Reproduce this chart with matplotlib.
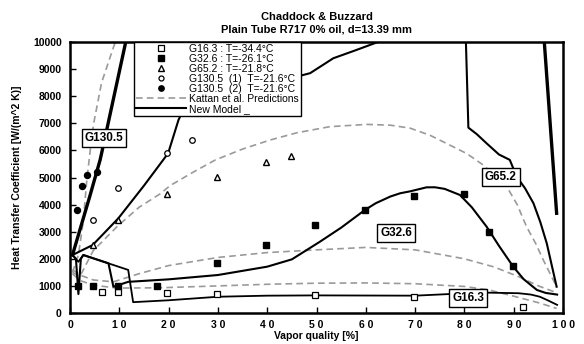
import matplotlib
matplotlib.use('Agg')
import matplotlib.pyplot as plt

plt.rcParams['font.family'] = ['Liberation Sans', 'DejaVu Sans']

# measured points, vapor quality [%] vs h [W/(m^2 K)]
x_g16 = [6.4, 9.7, 19.7, 29.8, 49.7, 69.8, 91.8]
h_g16 = [786, 764, 749, 712, 676, 590, 210]
x_g32 = [1.7, 4.7, 9.7, 17.7, 29.8, 39.8, 49.7, 59.8, 69.8, 79.9, 84.9, 89.8]
h_g32 = [996, 1007, 996, 985, 1857, 2521, 3247, 3800, 4330, 4390, 3000, 1734]
x_g65 = [4.6, 9.7, 19.7, 29.8, 39.8, 44.8]
h_g65 = [2509, 3432, 4391, 5030, 5583, 5793]
x_g130a = [4.7, 9.7, 19.7, 24.7]
h_g130a = [3432, 4600, 5893, 6384]
x_g130b = [1.4, 2.4, 3.4, 5.4]
h_g130b = [3800, 4697, 5092, 5192]

# Kattan et al. predictions
xk16 = [0.5, 2, 4.7, 9.5, 18, 30, 40, 50, 60, 70, 80, 85, 90, 95, 98.7]
hk16 = [1450, 1200, 1030, 920, 930, 1000, 1060, 1100, 1110, 1080, 980, 850, 620, 380, 170]
xk32 = [0.5, 2, 4.7, 8.8, 14, 20, 30, 40, 50, 60, 70, 80, 86, 91, 95, 98.7]
hk32 = [1600, 1400, 1220, 1150, 1450, 1750, 2050, 2230, 2330, 2420, 2330, 2000, 1700, 1340, 1000, 750]
xk65 = [0.5, 2, 4.7, 9.6, 14, 18.3, 20.3, 25, 29.5, 35, 40.6, 46, 52.7, 60.2, 65, 69, 73, 77,
        80.5, 83.5, 86, 88.6, 90.7, 92.6, 94.5, 96, 98.7]
hk65 = [1500, 1350, 2300, 3200, 3900, 4400, 4700, 5200, 5650, 6050, 6384, 6650, 6876, 6960,
        6930, 6820, 6560, 6200, 5880, 5500, 5120, 4660, 4000, 3185, 2550, 1955, 970]
xk130 = [0.5, 1.7, 2.7, 3.4, 4.1, 4.8, 6.4, 8.8, 9.6]
hk130 = [1500, 2140, 3400, 4900, 6000, 7000, 8500, 9800, 10200]

# new model
xm16 = [0.5, 1.7, 2.7, 11.8, 12.8, 20, 30, 40, 50, 70, 77, 85, 91, 93.5, 95.3, 97, 98.8]
hm16 = [2140, 1890, 2140, 1590, 400, 470, 600, 640, 650, 640, 700, 750, 730, 680, 600, 460, 300]
xm32 = [0.5, 1.2, 1.7, 2.2, 2.7, 7.8, 8.8, 11.8, 20, 30, 40, 45, 50.7, 55, 59.8, 62, 65, 67,
        69, 72.3, 74, 76, 79.1, 81.5, 84.5, 87, 89.9, 92, 94.7, 96.5, 98.8]
hm32 = [2140, 2000, 700, 2000, 2140, 1833, 970, 1150, 1242, 1402, 1710, 1980, 2632, 3150,
        3800, 4050, 4300, 4420, 4490, 4637, 4640, 4580, 4354, 3900, 3185, 2480, 1710, 1250,
        850, 740, 680]
xm65 = [0.5, 4.6, 9.8, 15, 19.9, 22, 23.5, 35, 48.7, 53.4, 58, 63.5, 66, 79, 80.3, 80.8,
        82.5, 84.5, 87, 89.2, 90.6, 92.3, 94, 95.4, 96.7, 98.7]
hm65 = [2140, 2509, 3494, 4700, 5893, 7122, 7700, 8200, 8850, 9400, 9700, 10070, 10700,
        10700, 10000, 6840, 6600, 6260, 5850, 5650, 5030, 4600, 4050, 3350, 2570, 970]
xm130 = [0.5, 4, 6.1, 7, 11.3, 12.3, 95.8, 96.2, 98.7]
hm130 = [2140, 4300, 5647, 6384, 10000, 10700, 10700, 10000, 3680]

xticks = list(range(0, 101, 10))
xticklabels = [' '.join(str(v)) for v in xticks]
yticks = list(range(0, 10001, 1000))

fig = plt.figure(figsize=(5.84, 3.44), dpi=100)
ax = fig.add_axes([0.1199, 0.0901, 0.8442, 0.7878])

grey = '#9a9a9a'
for xs, hs in [(xk16, hk16), (xk32, hk32), (xk65, hk65), (xk130, hk130)]:
    ax.plot(xs, hs, color=grey, lw=1.2, ls=(0, (4, 2.5)), zorder=2)

ax.plot(xm16, hm16, color='black', lw=1.3, zorder=3)
ax.plot(xm32, hm32, color='black', lw=1.5, zorder=3)
ax.plot(xm65, hm65, color='black', lw=1.5, zorder=3)
ax.plot(xm130, hm130, color='black', lw=2.4, zorder=3)

ax.plot(x_g16, h_g16, ls='none', marker='s', ms=4.2, mfc='white', mec='black', mew=0.9, zorder=4,
        label='G16.3 : T=-34.4°C')
ax.plot(x_g32, h_g32, ls='none', marker='s', ms=4.6, mfc='black', mec='black', zorder=4,
        label='G32.6 : T=-26.1°C')
ax.plot(x_g65, h_g65, ls='none', marker='^', ms=4.3, mfc='white', mec='black', mew=1.0, zorder=4,
        label='G65.2 : T=-21.8°C')
ax.plot(x_g130a, h_g130a, ls='none', marker='o', ms=4.0, mfc='white', mec='black', mew=0.9, zorder=4,
        label='G130.5  (1)  T=-21.6°C')
ax.plot(x_g130b, h_g130b, ls='none', marker='o', ms=4.3, mfc='black', mec='black', zorder=4,
        label='G130.5  (2)  T=-21.6°C')
ax.plot([], [], color=grey, lw=1.2, ls=(0, (4, 2.5)), label='Kattan et al. Predictions')
ax.plot([], [], color='black', lw=1.5, label='New Model _')

leg = ax.legend(loc='upper left', bbox_to_anchor=(0.13, 1.0), fontsize=7.5, labelspacing=0.0,
                handlelength=4.8, handletextpad=0.3, borderpad=0.2, borderaxespad=0,
                markerscale=0.9, fancybox=False, framealpha=1, edgecolor='black')
leg.get_frame().set_linewidth(1.0)
leg.set_zorder(10)

box = dict(boxstyle='square,pad=0.25', fc='white', ec='black', lw=1.0)
for txt, bx, by in [('G130.5', 6.9, 6460), ('G65.2', 87.4, 5030),
                    ('G32.6', 66.1, 2940), ('G16.3', 80.8, 570)]:
    ax.text(bx, by, txt, ha='center', va='center', fontsize=8.5, fontweight='bold',
            bbox=box, zorder=6)

ax.set_xlim(0, 100)
ax.set_ylim(0, 10000)
ax.set_xticks(xticks)
ax.set_xticklabels(xticklabels)
ax.set_yticks(yticks)
ax.tick_params(direction='in', length=4, width=1, labelsize=7.5)
ax.tick_params(axis='x', pad=5)
ax.tick_params(axis='y', pad=6)
for lab in ax.get_xticklabels() + ax.get_yticklabels():
    lab.set_fontweight('bold')
for sp in ax.spines.values():
    sp.set_linewidth(1.8)

ax.set_xlabel('Vapor quality [%]', fontsize=7.5, fontweight='bold', labelpad=0.5)
ax.set_ylabel('Heat Transfer Coefficient [W/(m^2 K)]', fontsize=7.5, fontweight='bold', labelpad=8)
ax.set_title('Chaddock & Buzzard\nPlain Tube R717 0% oil, d=13.39 mm', fontsize=8,
             fontweight='bold', pad=7, linespacing=1.3)

fig.savefig('out.png', dpi=100)
